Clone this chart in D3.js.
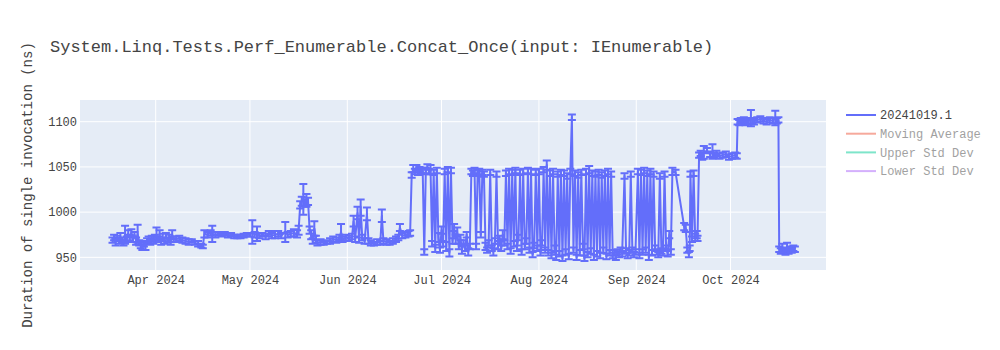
<!DOCTYPE html>
<html>
<head>
<meta charset="utf-8">
<script src="https://cdn.jsdelivr.net/npm/d3@7"></script>
<style>
  body { margin: 0; background: #fff; }
  svg { display: block; font-family: "Liberation Mono", "Courier New", monospace; }
</style>
</head>
<body>
<div id="chart-container"></div>
<script>
// run timestamps (UTC, hour precision)
const runDates = [
  '2024-03-18T06', '2024-03-18T18', '2024-03-19T06', '2024-03-19T18', '2024-03-20T06', '2024-03-20T18', '2024-03-21T06', '2024-03-21T18', '2024-03-22T06', '2024-03-22T18',
  '2024-03-23T06', '2024-03-23T18', '2024-03-24T06', '2024-03-24T18', '2024-03-25T06', '2024-03-25T18', '2024-03-26T06', '2024-03-26T18', '2024-03-27T06', '2024-03-27T18',
  '2024-03-28T06', '2024-03-28T18', '2024-03-29T06', '2024-03-29T18', '2024-03-30T06', '2024-03-30T18', '2024-03-31T06', '2024-03-31T18', '2024-04-01T06', '2024-04-01T18',
  '2024-04-02T06', '2024-04-02T18', '2024-04-03T06', '2024-04-03T18', '2024-04-04T06', '2024-04-04T18', '2024-04-05T06', '2024-04-05T18', '2024-04-06T06', '2024-04-06T18',
  '2024-04-07T12', '2024-04-08T12', '2024-04-09T12', '2024-04-10T12', '2024-04-11T12', '2024-04-12T12', '2024-04-13T12', '2024-04-14T12', '2024-04-15T12', '2024-04-16T00',
  '2024-04-16T12', '2024-04-17T12', '2024-04-18T12', '2024-04-19T00', '2024-04-20T00', '2024-04-21T00', '2024-04-22T00', '2024-04-23T00', '2024-04-24T00', '2024-04-25T00',
  '2024-04-26T00', '2024-04-27T00', '2024-04-28T00', '2024-04-29T00', '2024-04-30T00', '2024-05-01T00', '2024-05-01T18', '2024-05-02T12', '2024-05-03T06', '2024-05-04T00',
  '2024-05-05T00', '2024-05-06T00', '2024-05-07T00', '2024-05-08T00', '2024-05-09T00', '2024-05-10T00', '2024-05-11T00', '2024-05-12T06', '2024-05-13T00', '2024-05-14T00',
  '2024-05-15T00', '2024-05-16T00', '2024-05-16T12', '2024-05-17T00', '2024-05-17T12', '2024-05-18T00', '2024-05-18T12', '2024-05-19T00', '2024-05-19T12', '2024-05-20T00',
  '2024-05-20T12', '2024-05-21T00', '2024-05-21T12', '2024-05-22T00', '2024-05-22T12', '2024-05-23T12', '2024-05-24T12', '2024-05-25T12', '2024-05-26T12', '2024-05-27T12',
  '2024-05-28T12', '2024-05-29T12', '2024-05-30T00', '2024-05-30T12', '2024-05-31T12', '2024-06-01T12', '2024-06-02T12', '2024-06-03T00', '2024-06-03T12', '2024-06-04T06',
  '2024-06-04T18', '2024-06-05T06', '2024-06-05T18', '2024-06-06T12', '2024-06-07T06', '2024-06-07T18', '2024-06-08T12', '2024-06-09T12', '2024-06-10T12', '2024-06-11T12',
  '2024-06-12T00', '2024-06-12T12', '2024-06-13T12', '2024-06-14T12', '2024-06-15T12', '2024-06-16T12', '2024-06-17T06', '2024-06-17T18', '2024-06-18T12', '2024-06-19T12',
  '2024-06-20T12', '2024-06-21T00', '2024-06-21T12', '2024-06-22T00', '2024-06-22T12', '2024-06-23T00', '2024-06-23T12', '2024-06-24T00', '2024-06-24T12', '2024-06-25T00',
  '2024-06-25T12', '2024-06-26T00', '2024-06-26T12', '2024-06-27T00', '2024-06-27T12', '2024-06-28T00', '2024-06-28T12', '2024-06-29T00', '2024-06-29T12', '2024-06-30T00',
  '2024-06-30T12', '2024-07-01T00', '2024-07-01T12', '2024-07-02T00', '2024-07-02T12', '2024-07-03T00', '2024-07-03T12', '2024-07-04T00', '2024-07-04T12', '2024-07-05T00',
  '2024-07-05T12', '2024-07-06T00', '2024-07-06T12', '2024-07-07T00', '2024-07-07T12', '2024-07-08T00', '2024-07-08T12', '2024-07-09T00', '2024-07-09T12', '2024-07-10T00',
  '2024-07-10T12', '2024-07-11T00', '2024-07-11T12', '2024-07-12T00', '2024-07-12T12', '2024-07-13T00', '2024-07-13T12', '2024-07-14T00', '2024-07-14T12', '2024-07-15T00',
  '2024-07-15T12', '2024-07-16T00', '2024-07-16T12', '2024-07-17T00', '2024-07-17T12', '2024-07-18T00', '2024-07-18T12', '2024-07-19T00', '2024-07-19T12', '2024-07-20T00',
  '2024-07-20T12', '2024-07-21T00', '2024-07-21T12', '2024-07-22T00', '2024-07-22T12', '2024-07-23T00', '2024-07-23T12', '2024-07-24T00', '2024-07-24T12', '2024-07-25T00',
  '2024-07-25T12', '2024-07-26T00', '2024-07-26T12', '2024-07-27T00', '2024-07-27T12', '2024-07-28T00', '2024-07-28T12', '2024-07-29T00', '2024-07-29T12', '2024-07-30T00',
  '2024-07-30T12', '2024-07-31T00', '2024-07-31T12', '2024-08-01T00', '2024-08-01T12', '2024-08-02T00', '2024-08-02T12', '2024-08-03T00', '2024-08-03T12', '2024-08-04T00',
  '2024-08-04T12', '2024-08-05T00', '2024-08-05T12', '2024-08-06T00', '2024-08-06T12', '2024-08-07T00', '2024-08-07T12', '2024-08-08T00', '2024-08-08T12', '2024-08-09T00',
  '2024-08-09T12', '2024-08-10T00', '2024-08-10T12', '2024-08-11T00', '2024-08-11T12', '2024-08-12T00', '2024-08-12T12', '2024-08-13T00', '2024-08-13T12', '2024-08-14T00',
  '2024-08-14T12', '2024-08-15T00', '2024-08-15T12', '2024-08-16T00', '2024-08-16T12', '2024-08-17T00', '2024-08-17T12', '2024-08-18T00', '2024-08-18T12', '2024-08-19T00',
  '2024-08-19T12', '2024-08-20T00', '2024-08-20T12', '2024-08-21T00', '2024-08-21T12', '2024-08-22T00', '2024-08-22T12', '2024-08-23T00', '2024-08-23T12', '2024-08-24T00',
  '2024-08-24T12', '2024-08-25T00', '2024-08-25T12', '2024-08-26T00', '2024-08-26T12', '2024-08-27T00', '2024-08-27T12', '2024-08-28T06', '2024-08-28T18', '2024-08-29T06',
  '2024-08-29T18', '2024-08-30T06', '2024-08-30T18', '2024-08-31T06', '2024-08-31T18', '2024-09-01T12', '2024-09-02T00', '2024-09-02T12', '2024-09-03T00', '2024-09-03T12',
  '2024-09-04T00', '2024-09-04T12', '2024-09-05T00', '2024-09-05T12', '2024-09-06T00', '2024-09-06T12', '2024-09-07T00', '2024-09-07T12', '2024-09-08T00', '2024-09-08T12',
  '2024-09-09T00', '2024-09-09T12', '2024-09-10T00', '2024-09-10T12', '2024-09-11T00', '2024-09-11T12', '2024-09-12T00', '2024-09-12T12', '2024-09-13T12', '2024-09-16T06',
  '2024-09-16T18', '2024-09-17T06', '2024-09-17T18', '2024-09-18T00', '2024-09-18T06', '2024-09-18T18', '2024-09-19T06', '2024-09-19T18', '2024-09-20T06', '2024-09-20T12',
  '2024-09-21T00', '2024-09-21T12', '2024-09-22T00', '2024-09-22T12', '2024-09-23T12', '2024-09-24T12', '2024-09-25T06', '2024-09-25T18', '2024-09-26T12', '2024-09-27T12',
  '2024-09-28T12', '2024-09-29T12', '2024-09-30T12', '2024-10-01T12', '2024-10-02T12', '2024-10-03T00', '2024-10-03T06', '2024-10-03T18', '2024-10-04T06', '2024-10-04T18',
  '2024-10-05T06', '2024-10-05T18', '2024-10-06T06', '2024-10-06T18', '2024-10-07T12', '2024-10-08T00', '2024-10-08T12', '2024-10-09T12', '2024-10-10T12', '2024-10-11T12',
  '2024-10-12T12', '2024-10-13T12', '2024-10-14T12', '2024-10-15T06', '2024-10-15T18', '2024-10-16T06', '2024-10-16T12', '2024-10-17T00', '2024-10-17T12', '2024-10-18T00',
  '2024-10-18T12', '2024-10-19T00', '2024-10-19T12', '2024-10-20T00', '2024-10-20T12', '2024-10-21T00', '2024-10-21T12',
];

// duration of single invocation (ns)
const durations = [
  969, 972, 967, 971, 968, 973, 969, 966, 975, 970,
  976, 972, 977, 970, 975, 968, 976, 966, 963, 961,
  965, 962, 968, 970, 967, 971, 969, 972, 975, 970,
  974, 967, 972, 968, 974, 969, 971, 967, 975, 970,
  970, 971, 969, 968, 967, 968, 966, 965, 963, 962,
  976, 975, 977, 976, 975, 976, 975, 976, 974, 975,
  973, 973, 973, 974, 975, 975, 978, 975, 976, 974,
  975, 973, 976, 974, 975, 976, 974, 978, 975, 976,
  977, 976, 980, 1008, 1012, 1014, 1010, 1013, 1012, 980,
  975, 968, 982, 970, 966, 967, 966, 967, 968, 970,
  969, 971, 978, 970, 972, 971, 973, 990, 970, 999,
  969, 1005, 972, 968, 998, 968, 966, 965, 967, 966,
  996, 968, 967, 966, 968, 970, 972, 983, 974, 975,
  976, 977, 1041, 1048, 1045, 1049, 1044, 1047, 1045, 1046,
  956, 1046, 1050, 1045, 1047, 965, 1044, 960, 1046, 972,
  958, 980, 965, 1045, 962, 1047, 955, 1046, 968, 983,
  970, 978, 962, 972, 958, 966, 960, 975, 956, 962,
  1045, 1043, 1046, 962, 1044, 1045, 975, 1044, 1042, 962,
  958, 966, 1044, 960, 956, 968, 1042, 962, 971, 960,
  975, 966, 1043, 962, 1045, 957, 1044, 965, 1046, 960,
  972, 1044, 956, 1045, 962, 968, 1046, 958, 1045, 953,
  963, 1044, 960, 1045, 955, 966, 1047, 958, 1052, 955,
  1043, 952, 1045, 960, 950, 1042, 954, 1044, 949, 1043,
  956, 1040, 951, 1045, 1105, 958, 1043, 950, 1041, 955,
  1044, 962, 949, 1045, 953, 1047, 957, 1043, 950, 1042,
  954, 1044, 952, 1041, 958, 1043, 951, 1045, 955, 1042,
  952, 955, 950, 956, 953, 958, 954, 1040, 957, 952,
  955, 1042, 958, 953, 956, 1045, 952, 1044, 956, 1046,
  958, 1043, 950, 1045, 955, 1042, 960, 956, 953, 1040,
  957, 955, 1042, 960, 954, 975, 956, 1045, 1044, 984,
  982, 958, 953, 960, 1042, 970, 1043, 972, 975, 971,
  1063, 1065, 1062, 1066, 1068, 1064, 1067, 1063, 1065, 1062,
  1063, 1064, 1061, 1062, 1063, 1062, 1100, 1099, 1101, 1100,
  1102, 1099, 1101, 1100, 1104, 1101, 1100, 1102, 1103, 1101,
  1100, 1102, 1101, 1104, 1101, 1102, 959, 957, 960, 958,
  956, 961, 957, 959, 958, 960, 959,
];

// error bar half-heights (ns)
const errors = [
  3, 3, 4, 3, 3, 4, 3, 3, 10, 3,
  4, 3, 4, 3, 3, 4, 10, 3, 3, 3,
  3, 4, 3, 3, 3, 3, 4, 3, 8, 3,
  6, 3, 4, 3, 3, 3, 4, 3, 5, 3,
  3, 3, 3, 3, 3, 2, 2, 3, 2, 2,
  4, 3, 3, 9, 3, 2, 2, 2, 2, 2,
  2, 2, 2, 2, 2, 2, 13, 3, 8, 3,
  2, 3, 3, 3, 4, 3, 3, 11, 3, 3,
  4, 4, 5, 4, 5, 17, 4, 7, 4, 4,
  5, 3, 8, 4, 3, 3, 2, 2, 3, 3,
  3, 4, 9, 3, 3, 3, 3, 6, 3, 7,
  3, 9, 3, 3, 7, 3, 3, 2, 3, 2,
  7, 3, 3, 2, 3, 3, 3, 4, 3, 3,
  3, 3, 3, 4, 3, 3, 3, 3, 3, 3,
  3, 3, 3, 3, 5, 3, 3, 4, 3, 5,
  3, 4, 3, 3, 5, 3, 4, 3, 3, 4,
  5, 5, 3, 3, 4, 3, 3, 3, 4, 3,
  3, 3, 3, 3, 3, 3, 3, 3, 3, 4,
  3, 3, 3, 3, 4, 3, 3, 3, 3, 3,
  5, 3, 3, 3, 3, 3, 3, 3, 3, 3,
  3, 3, 3, 3, 3, 3, 3, 3, 3, 3,
  3, 3, 3, 3, 3, 3, 3, 3, 5, 3,
  3, 3, 3, 3, 3, 3, 3, 3, 3, 3,
  3, 3, 3, 3, 3, 3, 3, 3, 3, 3,
  3, 3, 3, 3, 3, 4, 3, 3, 3, 3,
  3, 3, 3, 3, 3, 3, 3, 3, 3, 3,
  3, 3, 3, 3, 3, 3, 3, 3, 3, 3,
  3, 3, 3, 3, 3, 3, 3, 3, 3, 3,
  3, 3, 3, 3, 3, 3, 3, 3, 3, 3,
  3, 3, 3, 3, 3, 4, 3, 4, 3, 4,
  4, 3, 3, 3, 3, 3, 3, 4, 4, 3,
  3, 3, 4, 7, 3, 3, 8, 3, 3, 3,
  3, 3, 3, 3, 3, 3, 3, 3, 3, 3,
  3, 3, 3, 3, 9, 3, 3, 3, 3, 3,
  3, 3, 3, 8, 3, 3, 3, 3, 5, 3,
  3, 5, 3, 3, 3, 3, 3,
];

const yTicks = [950, 1000, 1050, 1100];
const legendNames = ['20241019.1', 'Moving Average', 'Upper Std Dev', 'Lower Std Dev'];
const legendColors = ['#636efa', '#EF553B', '#00cc96', '#ab63fa'];
const legendHidden = [false, true, true, true];
const chartTitle = 'System.Linq.Tests.Perf_Enumerable.Concat_Once(input: IEnumerable)';
const yTitle = 'Duration of single invocation (ns)';

// set the dimensions and margins of the graph
const margin = {top: 100, right: 174, bottom: 80, left: 80};
const width = 1000 - margin.left - margin.right;
const height = 350 - margin.top - margin.bottom;

const parseRun = d3.utcParse('%Y-%m-%dT%H');
const points = runDates.map((d, i) => ({date: parseRun(d), value: durations[i], err: errors[i]}));

const root = d3.select('#chart-container')
    .append('svg')
    .attr('width', width + margin.left + margin.right)
    .attr('height', height + margin.top + margin.bottom);

root.append('rect')
    .attr('width', 1000).attr('height', 350).attr('fill', '#fff');

const svg = root.append('g')
    .attr('transform', `translate(${margin.left}, ${margin.top})`);

svg.append('rect')
    .attr('width', width).attr('height', height)
    .attr('fill', '#E5ECF6');

// axis ranges as shown in the picture
const x = d3.scaleUtc()
    .domain([Date.UTC(2024, 2, 7, 21, 36), Date.UTC(2024, 9, 31, 9, 36)])
    .range([0, width]);
const y = d3.scaleLinear()
    .domain([936, 1124])
    .range([height, 0]);

const monthTicks = x.ticks(d3.utcMonth.every(1));

// grid
svg.append('g').selectAll('line.vgrid')
    .data(monthTicks).enter().append('line')
    .attr('x1', (d) => x(d)).attr('x2', (d) => x(d))
    .attr('y1', 0).attr('y2', height)
    .attr('stroke', '#fff').attr('stroke-width', 1);
svg.append('g').selectAll('line.hgrid')
    .data(yTicks).enter().append('line')
    .attr('x1', 0).attr('x2', width)
    .attr('y1', (d) => y(d)).attr('y2', (d) => y(d))
    .attr('stroke', '#fff').attr('stroke-width', 1);

// axes
const xAxis = svg.append('g')
    .attr('transform', `translate(0, ${height})`)
    .call(d3.axisBottom(x).tickValues(monthTicks).tickFormat(d3.utcFormat('%b %Y')).tickSize(0).tickPadding(5));
const yAxis = svg.append('g')
    .call(d3.axisLeft(y).tickValues(yTicks).tickFormat(d3.format('d')).tickSize(0).tickPadding(3));
[xAxis, yAxis].forEach((a) => {
  a.select('.domain').remove();
  a.selectAll('text')
      .attr('font-family', '"Liberation Mono", "Courier New", monospace')
      .attr('font-size', '12px')
      .attr('fill', '#444');
});

// clipped data layer
svg.append('clipPath').attr('id', 'plot-clip')
    .append('rect').attr('width', width).attr('height', height);
const layer = svg.append('g').attr('clip-path', 'url(#plot-clip)');

const capHalf = 4;
layer.append('g').selectAll('path')
    .data(points).enter().append('path')
    .attr('d', (d) => {
      const px = x(d.date);
      const top = y(d.value + d.err);
      const bot = y(d.value - d.err);
      return `M${px - capHalf},${top}h${2 * capHalf}M${px},${top}V${bot}M${px - capHalf},${bot}h${2 * capHalf}`;
    })
    .attr('stroke', legendColors[0])
    .attr('stroke-width', 2)
    .attr('fill', 'none');

layer.append('path')
    .datum(points)
    .attr('d', d3.line()
        .x((d) => x(d.date))
        .y((d) => y(d.value)))
    .attr('stroke', legendColors[0])
    .attr('stroke-width', 2)
    .attr('stroke-linejoin', 'round')
    .attr('fill', 'none');

// titles
root.append('text')
    .attr('x', 50).attr('y', 51.5)
    .attr('font-size', '17px')
    .attr('fill', '#444')
    .text(chartTitle);

root.append('text')
    .attr('transform', `translate(32, ${margin.top + height / 2}) rotate(-90)`)
    .attr('text-anchor', 'middle')
    .attr('font-size', '14px')
    .attr('fill', '#444')
    .text(yTitle);

// legend
const legend = root.append('g').attr('transform', 'translate(846, 115)');
const rows = legend.selectAll('g')
    .data(legendNames).enter().append('g')
    .attr('transform', (d, i) => `translate(0, ${i * 18.7})`)
    .attr('opacity', (d, i) => legendHidden[i] ? 0.5 : 1);
rows.append('line')
    .attr('x1', 0).attr('x2', 30)
    .attr('stroke', (d, i) => legendColors[i])
    .attr('stroke-width', 2);
rows.append('text')
    .attr('x', 34).attr('dy', '0.35em')
    .attr('font-size', '12px')
    .attr('fill', '#444')
    .text((d) => d);
</script>
</body>
</html>
